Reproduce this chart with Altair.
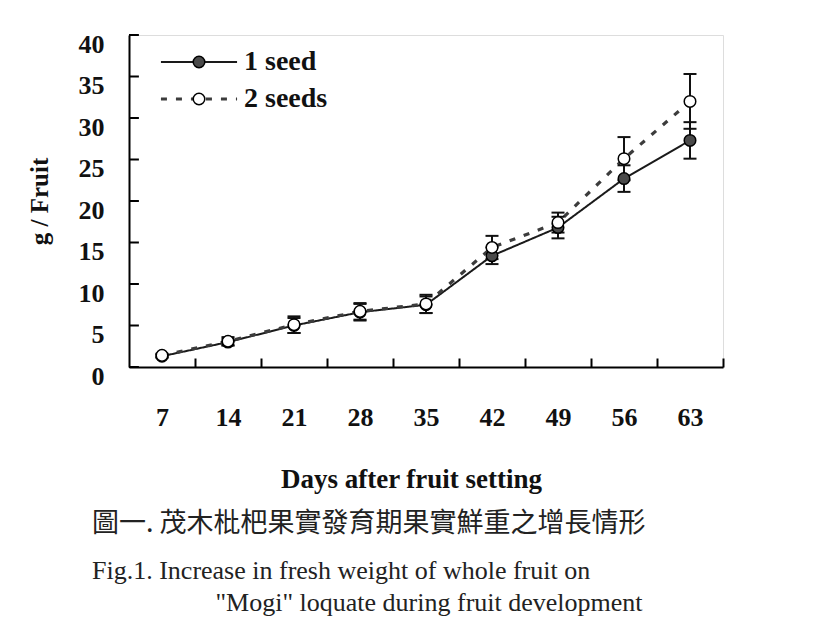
import altair as alt
import pandas as pd

# ---- data ----
days = [7, 14, 21, 28, 35, 42, 49, 56, 63]
seed1_mean = [1.3, 3.0, 5.0, 6.6, 7.5, 13.4, 16.8, 22.7, 27.3]
seed1_se = [0.2, 0.4, 0.9, 1.0, 1.0, 1.0, 1.3, 1.6, 2.2]
seed2_mean = [1.4, 3.1, 5.1, 6.7, 7.6, 14.4, 17.4, 25.1, 32.0]
seed2_se = [0.2, 0.5, 1.0, 1.0, 1.1, 1.4, 1.2, 2.6, 3.3]
series_names = ["1 seed", "2 seeds"]

y_ticks = [0, 5, 10, 15, 20, 25, 30, 35, 40]
x_band_edges = [10.5, 17.5, 24.5, 31.5, 38.5, 45.5, 52.5, 59.5, 66.5]
x_domain = [3.5, 66.5]

caption_zh = "圖一. 茂木枇杷果實發育期果實鮮重之增長情形"
caption_en = [
    "Fig.1. Increase in fresh weight of whole fruit on",
    "\u200b" + "\u00a0" * 19 + "\"Mogi\" loquate during fruit development",
]

rows = []
for name, means, ses in [(series_names[0], seed1_mean, seed1_se),
                         (series_names[1], seed2_mean, seed2_se)]:
    for d, m, s in zip(days, means, ses):
        rows.append({"day": d, "mean": m, "lo": m - s, "hi": m + s,
                     "series": name, "line_key": name})
df = pd.DataFrame(rows)
tick_df = pd.DataFrame({"tick": y_ticks, "start": [3.5] * len(y_ticks), "end": [4.55] * len(y_ticks)})

SERIF = "Liberation Serif"
W, H = 594, 332

x_scale = alt.Scale(domain=x_domain, nice=False, zero=False)
y_scale = alt.Scale(domain=[0, 40], nice=False, zero=True)

x_main_axis = alt.Axis(
    values=days,
    ticks=False,
    domainColor="black",
    domainWidth=2,
    grid=False,
    labelFlush=False,
    labelFont=SERIF,
    labelFontWeight="bold",
    labelFontSize=26,
    labelColor="#111",
    labelPadding=37,
    title="Days after fruit setting",
    titleFont=SERIF,
    titleFontWeight="bold",
    titleFontSize=27,
    titleColor="#111",
    titleX=282,
    titleY=120,
    titleAlign="center",
    titleBaseline="alphabetic",
)
y_main_axis = alt.Axis(
    values=y_ticks,
    ticks=False,
    domainColor="black",
    domainWidth=2,
    grid=False,
    labelFont=SERIF,
    labelFontWeight="bold",
    labelFontSize=26,
    labelColor="#111",
    labelPadding=25,
    labelOffset=9,
    title="g / Fruit",
    titleFont=SERIF,
    titleFontWeight="bold",
    titleFontSize=25,
    titleColor="#111",
    titlePadding=26,
)
# inward-pointing x ticks: tick-only axis moved onto the bottom edge
x_tick_axis = alt.Axis(
    orient="top", offset=-H, values=x_band_edges, labels=False, domain=False,
    grid=False, tickSize=9, tickWidth=2, tickColor="black", title=None,
)

leg_common = dict(
    title=None,
    orient="none",
    legendX=56,
    legendY=13,
    symbolSize=133,
    labelFont=SERIF,
    labelFontWeight="bold",
    labelFontSize=28,
    labelColor="#111",
    labelOffset=31,
    rowPadding=9,
    padding=0,
)
leg_line = alt.Legend(symbolType="M-6.6,0H6.6", labelOpacity=0, **leg_common)
leg_pt = alt.Legend(symbolType="circle", symbolStrokeColor="black",
                    symbolStrokeWidth=1.5, **leg_common)

base = alt.Chart(df)

lines = base.mark_line().encode(
    x=alt.X("day:Q", scale=x_scale, axis=x_main_axis),
    y=alt.Y("mean:Q", scale=y_scale, axis=y_main_axis),
    color=alt.Color("line_key:N", scale=alt.Scale(range=["#1a1a1a", "#3c3c3c"]), legend=leg_line),
    strokeDash=alt.StrokeDash("line_key:N", scale=alt.Scale(range=[[1, 0], [6, 9]]), legend=leg_line),
    strokeWidth=alt.StrokeWidth("line_key:O", scale=alt.Scale(range=[2.0, 3.2]), legend=leg_line),
)

rules = base.mark_rule(color="#111", strokeWidth=2).encode(
    x=alt.X("day:Q", axis=x_tick_axis),
    y=alt.Y("lo:Q", axis=None),
    y2="hi:Q",
)
tick_lo = base.mark_tick(orient="horizontal", size=13, thickness=2, color="#111", opacity=1).encode(
    x=alt.X("day:Q", axis=None), y=alt.Y("lo:Q", axis=None)
)
tick_hi = base.mark_tick(orient="horizontal", size=13, thickness=2, color="#111", opacity=1).encode(
    x=alt.X("day:Q", axis=None), y=alt.Y("hi:Q", axis=None)
)

points = base.mark_point(filled=True, size=133, stroke="black", strokeWidth=1.5, opacity=1).encode(
    x=alt.X("day:Q", axis=None),
    y=alt.Y("mean:Q", axis=None),
    fill=alt.Fill("series:N", scale=alt.Scale(range=["#4a4a4a", "white"]), legend=leg_pt),
)

# inward-pointing y ticks: short horizontal rules at the tick values, drawn on top
y_inward_ticks = alt.Chart(tick_df).mark_rule(color="black", strokeWidth=2, opacity=1).encode(
    y=alt.Y("tick:Q", axis=None),
    x=alt.X("start:Q", axis=None),
    x2="end:Q",
)

chart = alt.layer(lines, rules, tick_lo, tick_hi, points, y_inward_ticks).resolve_axis(
    x="independent", y="independent"
).properties(
    width=W,
    height=H,
    autosize=alt.AutoSizeParams(type="none"),
    padding={"left": 121, "top": 27, "right": 88, "bottom": 264},
    title=alt.TitleParams(
        text=caption_zh,
        subtitle=caption_en,
        orient="bottom",
        anchor="start",
        frame="group",
        dx=-37,
        offset=19,
        baseline="top",
        font="Noto Sans CJK TC",
        fontSize=27,
        fontWeight="normal",
        color="#222",
        subtitleFont=SERIF,
        subtitleFontSize=26,
        subtitleColor="#222",
        subtitlePadding=20,
        subtitleLineHeight=32,
    ),
).configure_view(strokeWidth=0).configure(background="white")

chart.save("out.html", embed_options={"renderer": "svg", "actions": False})
